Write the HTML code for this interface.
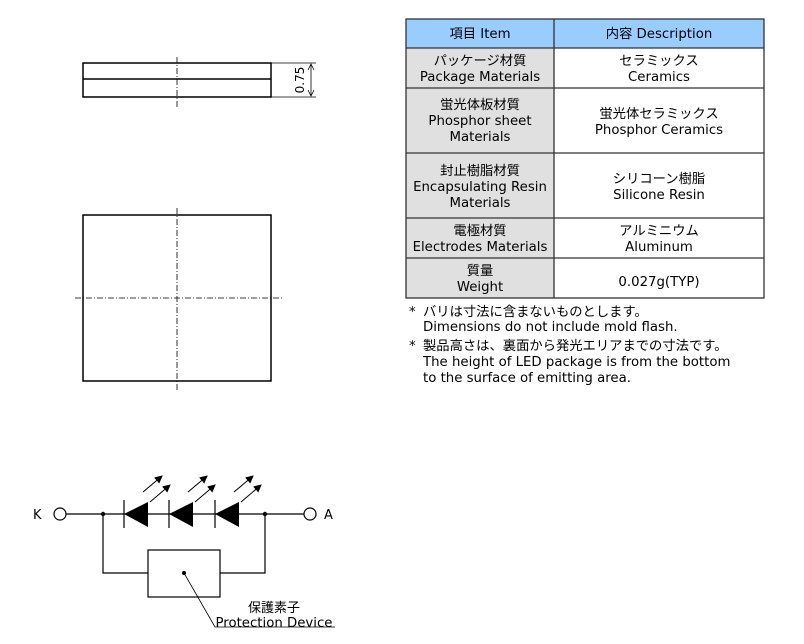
<!DOCTYPE html>
<html><head><meta charset="utf-8"><style>
body{margin:0;background:#fff;}
svg{display:block;font-family:"DejaVu Sans","Noto Sans CJK JP",sans-serif;}
</style></head><body>
<svg width="804" height="644" viewBox="0 0 804 644" xmlns="http://www.w3.org/2000/svg">
<defs><marker id="ah" markerWidth="8" markerHeight="8" refX="7" refY="4" orient="auto" markerUnits="userSpaceOnUse"><path d="M0,0 L8,4 L0,8 z" fill="#000"/></marker></defs>
<g fill="none" stroke="#000">
<rect x="83" y="63" width="188" height="34" stroke-width="1.5"/>
<line x1="83" y1="79" x2="271" y2="79" stroke-width="1.5"/>
<line x1="177" y1="57" x2="177" y2="108" stroke-width="0.8" stroke-dasharray="6,2,1,2"/>
<line x1="271" y1="63" x2="316" y2="63" stroke-width="0.8"/>
<line x1="271" y1="97" x2="316" y2="97" stroke-width="0.8"/>
<line x1="311" y1="65" x2="311" y2="95" stroke-width="0.8"/>
<path d="M308,70 L311,64 L314,70 M308,90 L311,96 L314,90" stroke-width="0.8"/>
<rect x="83" y="215" width="188" height="166" stroke-width="1.5"/>
<line x1="177" y1="208" x2="177" y2="390" stroke-width="0.8" stroke-dasharray="6,2,1,2"/>
<line x1="75" y1="298" x2="282" y2="298" stroke-width="0.8" stroke-dasharray="6,2,1,2"/>
<line x1="66" y1="514" x2="304" y2="514" stroke-width="1.2"/>
<circle cx="60" cy="514" r="6" fill="#fff" stroke-width="1.2"/>
<circle cx="310" cy="514" r="6" fill="#fff" stroke-width="1.2"/>
<path d="M103,514 V573 H148 M220,573 H265 V514" stroke-width="1.2"/>
<rect x="148" y="550" width="72" height="47" stroke-width="1.2"/>
<path d="M184,573 L215,627 H335" stroke-width="0.8"/>
<g stroke-width="1.2">
<line x1="124" y1="500" x2="124" y2="528"/>
<line x1="169" y1="500" x2="169" y2="528"/>
<line x1="215" y1="500" x2="215" y2="528"/>
</g>
<g stroke-width="1" marker-end="url(#ah)">
<line x1="143" y1="492" x2="162" y2="476"/><line x1="150" y1="502" x2="170" y2="485"/>
<line x1="188" y1="492" x2="207" y2="476"/><line x1="195" y1="502" x2="215" y2="485"/>
<line x1="234" y1="492" x2="253" y2="476"/><line x1="241" y1="502" x2="261" y2="485"/>
</g>
</g>
<g fill="#000">
<path d="M124,514 L148,502 L148,527 z"/>
<path d="M169,514 L193,502 L193,527 z"/>
<path d="M215,514 L239,502 L239,527 z"/>
<circle cx="103" cy="514" r="2.2"/><circle cx="265" cy="514" r="2.2"/><circle cx="184" cy="573" r="2"/>
</g>
<g font-size="13" fill="#000">
<text x="0" y="0" transform="translate(304,80) rotate(-90)" text-anchor="middle" font-size="12">0.75</text>
<text x="33" y="519">K</text>
<text x="324" y="519">A</text>
<text x="274" y="612" text-anchor="middle">保護素子</text>
<text x="274" y="627" text-anchor="middle" font-size="13.3">Protection Device</text>
</g>
<rect x="406" y="19" width="358" height="29" fill="#99ccff"/>
<rect x="406" y="48" width="148" height="250" fill="#e0e0e0"/>
<g stroke="#333" stroke-width="1.3" fill="none">
<rect x="406" y="19" width="358" height="279"/>
<line x1="554" y1="19" x2="554" y2="298"/>
<line x1="406" y1="48" x2="764" y2="48"/>
<line x1="406" y1="88" x2="764" y2="88"/>
<line x1="406" y1="153" x2="764" y2="153"/>
<line x1="406" y1="218" x2="764" y2="218"/>
<line x1="406" y1="258" x2="764" y2="258"/>
</g>
<g font-size="13.3" fill="#000" text-anchor="middle">
<text x="480" y="38">項目 Item</text><text x="659" y="38">内容 Description</text>
<text x="480" y="65">パッケージ材質</text><text x="480" y="81">Package Materials</text>
<text x="659" y="65">セラミックス</text><text x="659" y="81">Ceramics</text>
<text x="480" y="109">蛍光体板材質</text><text x="480" y="125">Phosphor sheet</text><text x="480" y="141">Materials</text>
<text x="659" y="118">蛍光体セラミックス</text><text x="659" y="134">Phosphor Ceramics</text>
<text x="480" y="175">封止樹脂材質</text><text x="480" y="191">Encapsulating Resin</text><text x="480" y="207">Materials</text>
<text x="659" y="183">シリコーン樹脂</text><text x="659" y="199">Silicone Resin</text>
<text x="480" y="235">電極材質</text><text x="480" y="251">Electrodes Materials</text>
<text x="659" y="235">アルミニウム</text><text x="659" y="251">Aluminum</text>
<text x="480" y="275">質量</text><text x="480" y="291">Weight</text>
<text x="659" y="286">0.027g(TYP)</text>
</g>
<g font-size="13.3" fill="#000">
<text x="409" y="316">*</text><text x="423" y="316">バリは寸法に含まないものとします。</text>
<text x="423" y="331">Dimensions do not include mold flash.</text>
<text x="409" y="350">*</text><text x="423" y="350">製品高さは、裏面から発光エリアまでの寸法です。</text>
<text x="423" y="366">The height of LED package is from the bottom</text>
<text x="423" y="382">to the surface of emitting area.</text>
</g>
</svg>
</body></html>
